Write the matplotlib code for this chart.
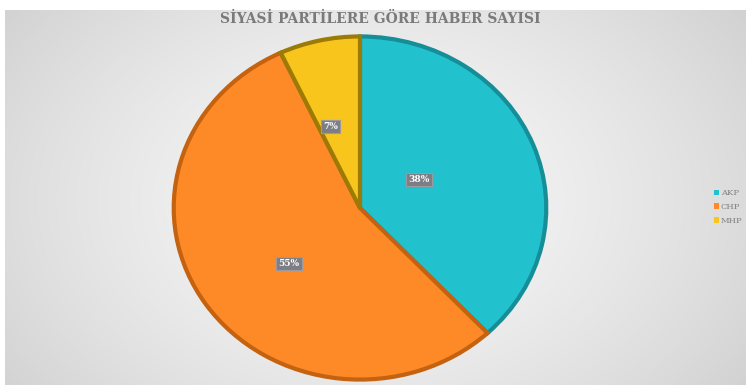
import numpy as np
import matplotlib.pyplot as plt
from matplotlib.patches import Patch

# data
parties = ['AKP', 'CHP', 'MHP']
shares = [38, 55, 7]
colors = ['#21c1cd', '#fd8a27', '#f7c51c']
edges = ['#158e98', '#c5620f', '#9c7a06']
title = 'SİYASİ PARTİLERE GÖRE HABER SAYISI'
label_dist = [0.36, 0.50, 0.50]

W, H = 746, 385
fig = plt.figure(figsize=(W / 100, H / 100), dpi=100)

# background: radial grey gradient inside a frame
bg = fig.add_axes([0, 0, 1, 1])
yy, xx = np.mgrid[0:H, 0:W]
d = np.sqrt(((xx - 370) / 420.0) ** 2 + ((yy - 200) / 300.0) ** 2)
g = np.clip(0.97 - 0.13 * d ** 1.5, 0.80, 1.0)
img = np.dstack([g, g, g])
img[:10, :, :] = 1.0
img[:, :5, :] = 1.0
bg.imshow(img, extent=[0, W, H, 0], aspect='auto')
bg.set_xlim(0, W)
bg.set_ylim(H, 0)
bg.axis('off')

bg.text(380, 19, title, ha='center', va='center', family='DejaVu Serif',
        fontsize=10, fontweight='bold', color='#7a7a7a')

# pie (slightly stretched vertically like the reference)
ax = fig.add_axes([(360 - 190) / W, (385 - 383) / H, 380 / W, 350 / H])
wedges, texts, autotexts = ax.pie(shares, colors=colors, startangle=90,
                                  counterclock=False, autopct='%d%%',
                                  pctdistance=0.5,
                                  wedgeprops=dict(linewidth=3))
for w, ec in zip(wedges, edges):
    w.set_edgecolor(ec)
for t, w, r in zip(autotexts, wedges, label_dist):
    a = np.deg2rad((w.theta1 + w.theta2) / 2 + 6)
    t.set_position((r * np.cos(a), r * np.sin(a)))
    t.set_color('white')
    t.set_fontsize(6.5)
    t.set_fontweight('bold')
    t.set_family('DejaVu Serif')
    t.set_bbox(dict(boxstyle='square,pad=0.25', fc='#7d7d85', ec='#9a9aa0', lw=0.8))
ax.set_aspect('auto')
ax.set_xlim(-1.02, 1.02)
ax.set_ylim(-1.02, 1.02)
ax.axis('off')

handles = [Patch(facecolor=c, edgecolor='none') for c in colors]
leg = fig.legend(handles, parties, loc='center left', bbox_to_anchor=(710 / W, 1 - 207 / H),
                 frameon=False, fontsize=6, handlelength=0.6, handleheight=0.6,
                 handletextpad=0.2, labelspacing=0.7, borderpad=0)
for t in leg.get_texts():
    t.set_color('#808080')
    t.set_family('DejaVu Serif')

fig.savefig('out.png', dpi=100)
